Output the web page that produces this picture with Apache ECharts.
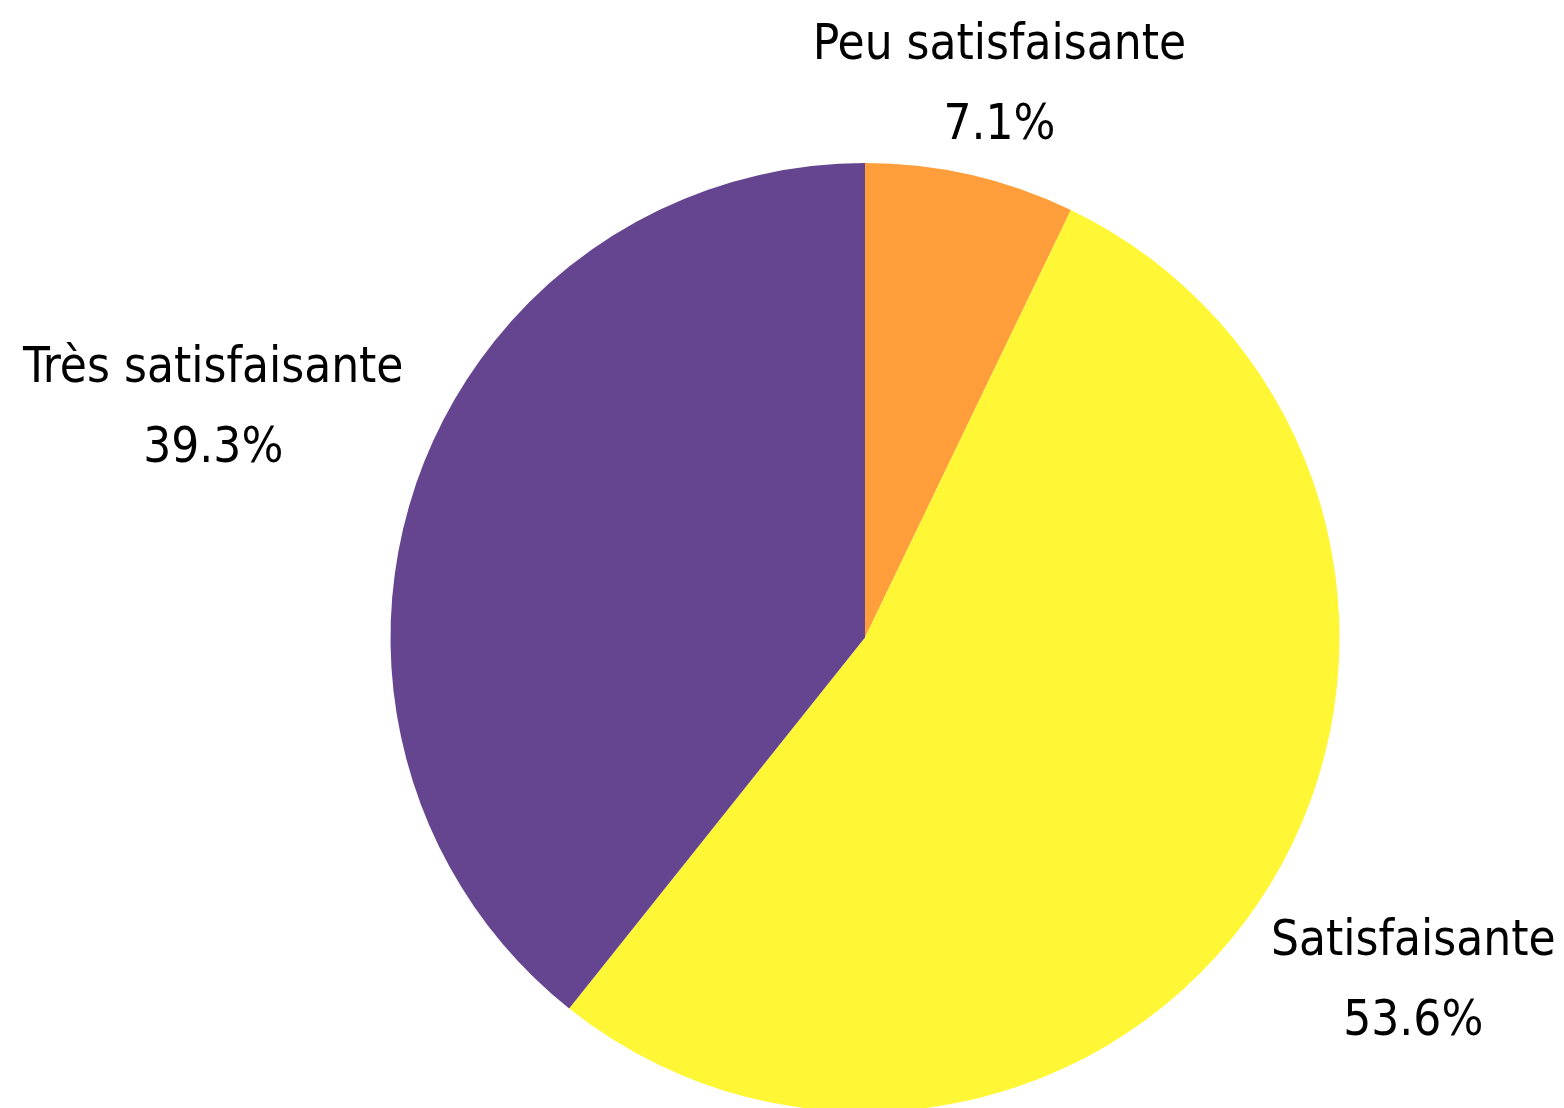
<!DOCTYPE html>
<html>
<head>
<meta charset="utf-8">
<title>Satisfaction</title>
<script src="https://cdn.jsdelivr.net/npm/echarts@6/dist/echarts.min.js"></script>
<style>
  html, body { margin: 0; padding: 0; background: #fff; }
  #main { width: 1564px; height: 1108px; }
</style>
</head>
<body>
<div id="main"></div>
<script>
// answers, clockwise from the top
var categories = ['Peu satisfaisante', 'Satisfaisante', 'Très satisfaisante'];
var counts = [2, 15, 11];
var colors = ['#FF9E3A', '#FFF735', '#654590'];

var CX = 865, CY = 637.5, RADIUS = 474.5, GAP = 10;
var total = counts.reduce(function (a, b) { return a + b; }, 0);

var chart = echarts.init(document.getElementById('main'));
chart.setOption({
  animation: false,
  series: [{
    type: 'pie',
    center: [CX, CY],
    radius: RADIUS,
    startAngle: 90,
    clockwise: true,
    avoidLabelOverlap: false,
    percentPrecision: 1,
    data: categories.map(function (name, i) {
      return { name: name, value: counts[i], itemStyle: { color: colors[i] } };
    }),
    label: {
      show: true,
      position: 'outside',
      formatter: '{b}\n{d}%',
      fontFamily: 'DejaVu Sans Condensed',
      fontSize: 49,
      lineHeight: 80,
      color: '#000'
    },
    labelLine: { show: false },
    labelLayout: function (p) {
      // centre each label on the slice's mid angle, just outside the rim
      var i = p.dataIndex;
      var before = 0;
      for (var j = 0; j < i; j++) before += counts[j];
      var a = (before + counts[i] / 2) / total * 2 * Math.PI;
      var ux = Math.sin(a), uy = -Math.cos(a);
      var w = p.labelRect.width, h = p.labelRect.height;
      var R = RADIUS + GAP + Math.abs(ux) * w / 2 + Math.abs(uy) * h / 2;
      var x = CX + ux * R;
      var y = Math.max(CY + uy * R, h / 2 + 6);
      return { x: x, y: y, align: 'center', verticalAlign: 'middle' };
    }
  }]
});
</script>
</body>
</html>
